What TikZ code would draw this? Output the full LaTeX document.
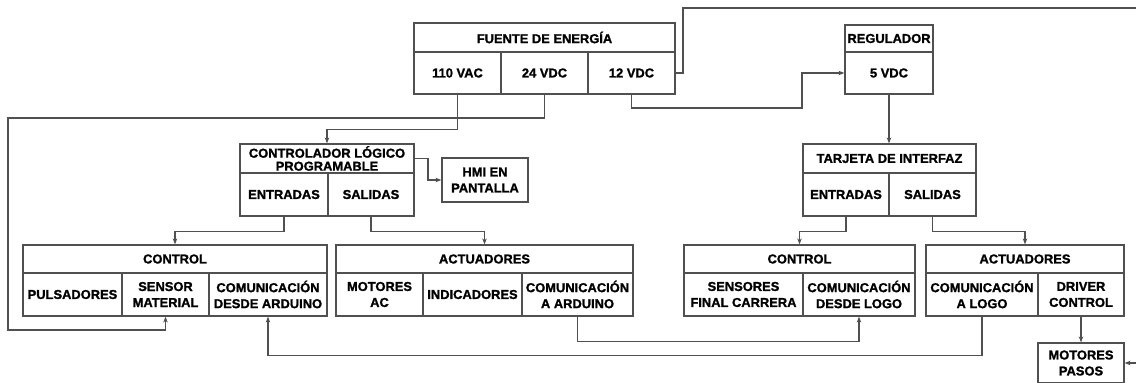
\documentclass[tikz,border=0pt]{standalone}
\usepackage{fontspec}
\setmainfont{Liberation Sans}[BoldFeatures={FakeBold=1.3}]
\usetikzlibrary{arrows.meta}
\definecolor{lc}{HTML}{505050}
\tikzset{
  cell/.style={draw=lc, line width=1.2pt, rectangle, inner sep=0pt, align=center,
    font=\bfseries\fontsize{12.9}{16}\selectfont, text=black},
  arr/.style={draw=lc, line width=1.1pt, -{Stealth[length=6pt,width=4.5pt]}},
  ln/.style={draw=lc, line width=1.1pt},
}
\begin{document}
\begin{tikzpicture}[x=1pt,y=-1pt]
\useasboundingbox (0,0) rectangle (1136,383);
% FUENTE DE ENERGIA
\node[cell, minimum width=261, minimum height=29] (fuenteh) at (544.5,37.5) {FUENTE DE ENERGÍA};
\node[cell, minimum width=87, minimum height=42] (vac) at (457.5,73) {110 VAC};
\node[cell, minimum width=87, minimum height=42] (vdca) at (544.5,73) {24 VDC};
\node[cell, minimum width=87, minimum height=42] (vdcb) at (631.5,73) {12 VDC};
% REGULADOR
\node[cell, minimum width=88, minimum height=27] (regh) at (889,38.5) {REGULADOR};
\node[cell, minimum width=88, minimum height=42] (regv) at (889,73) {5 VDC};
% PLC
\node[cell, minimum width=174, minimum height=29, font=\bfseries\fontsize{12.9}{13}\selectfont] (plch) at (327,158.5) {CONTROLADOR LÓGICO\\PROGRAMABLE};
\node[cell, minimum width=88, minimum height=43] (plcin) at (284,194.5) {ENTRADAS};
\node[cell, minimum width=86, minimum height=43] (plcout) at (371,194.5) {SALIDAS};
% HMI
\node[cell, minimum width=86, minimum height=44] (hmi) at (485,180) {HMI EN\\PANTALLA};
% TARJETA
\node[cell, minimum width=173, minimum height=29] (tarh) at (889.5,158.5) {TARJETA DE INTERFAZ};
\node[cell, minimum width=86, minimum height=43] (tarin) at (846,194.5) {ENTRADAS};
\node[cell, minimum width=87, minimum height=43] (tarout) at (932.5,194.5) {SALIDAS};
% CONTROL 1
\node[cell, minimum width=304, minimum height=28] (ctla) at (175,259) {CONTROL};
\node[cell, minimum width=99, minimum height=43] (puls) at (72.5,294.5) {PULSADORES};
\node[cell, minimum width=87, minimum height=43] (sensor) at (165.5,294.5) {SENSOR\\MATERIAL};
\node[cell, minimum width=118, minimum height=43] (comdard) at (268,294.5) {COMUNICACIÓN\\DESDE ARDUINO};
% ACTUADORES 1
\node[cell, minimum width=297, minimum height=28] (acta) at (484.5,259) {ACTUADORES};
\node[cell, minimum width=87, minimum height=43] (motac) at (379.5,294.5) {MOTORES\\AC};
\node[cell, minimum width=99, minimum height=43] (indic) at (472.5,294.5) {INDICADORES};
\node[cell, minimum width=111, minimum height=43] (comaard) at (577.5,294.5) {COMUNICACIÓN\\A ARDUINO};
% CONTROL 2
\node[cell, minimum width=231, minimum height=28] (ctlb) at (799.5,259) {CONTROL};
\node[cell, minimum width=119, minimum height=43] (sensfc) at (743.5,294.5) {SENSORES\\FINAL CARRERA};
\node[cell, minimum width=112, minimum height=43] (comdlogo) at (859,294.5) {COMUNICACIÓN\\DESDE LOGO};
% ACTUADORES 2
\node[cell, minimum width=198, minimum height=28] (actb) at (1025,259) {ACTUADORES};
\node[cell, minimum width=112, minimum height=43] (comalogo) at (982,294.5) {COMUNICACIÓN\\A LOGO};
\node[cell, minimum width=86, minimum height=43] (driver) at (1081,294.5) {DRIVER\\CONTROL};
% MOTORES PASOS
\node[cell, minimum width=86, minimum height=40] (motp) at (1081,363) {MOTORES\\PASOS};
% free ends
\coordinate (edgetop) at (1136,8);
\coordinate (edgebot) at (1136,363);
% connectors
\draw[arr] (vac.south) -- ++(0,35) -| (plch.north);
\draw[arr] (vdca.south) |- (8,118) -- (8,330) -| (sensor.south);
\draw[arr] (vdcb.south) |- (802,108) |- (regv.west);
\draw[ln] (vdcb.east) -- (683,73) -- (683,8) -- (edgetop);
\draw[arr] (regv.south) -- (regv.south |- tarh.north);
\draw[arr] (plcin.south) -- ++(0,15) -| (ctla.north);
\draw[arr] (plcout.south) -- ++(0,15) -| (acta.north);
\draw[arr] (plch.east) -- (428,158.5) |- (hmi.west);
\draw[arr] (tarin.south) -- ++(0,15) -| (ctlb.north);
\draw[arr] (tarout.south) -- ++(0,15) -| (actb.north);
\draw[arr] (comaard.south) -- ++(0,25) -| (comdlogo.south);
\draw[arr] (comalogo.south) -- ++(0,39) -| (comdard.south);
\draw[arr] (driver.south) -- (motp.north);
\draw[arr] (edgebot) -- (motp.east);
\end{tikzpicture}
\end{document}
